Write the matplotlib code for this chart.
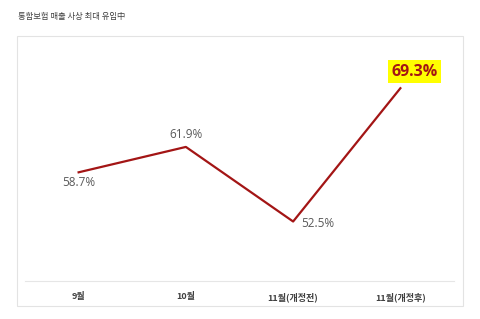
import matplotlib
matplotlib.use("Agg")
import matplotlib.pyplot as plt
from matplotlib.patches import Rectangle

plt.rcParams['font.family'] = ['Noto Sans CJK KR', 'DejaVu Sans']

categories = ['9월', '10월', '11월(개정전)', '11월(개정후)']
values = [58.7, 61.9, 52.5, 69.3]
labels = ['58.7%', '61.9%', '52.5%', '69.3%']
title = '통합보험 매출 사상 최대 유입中'

fig = plt.figure(figsize=(4.8, 3.19), dpi=100)
fig.patch.set_facecolor('white')

# outer frame
fig.patches.append(Rectangle((17/480, 1-306/319), (463-17)/480, (306-36)/319,
                             transform=fig.transFigure, fill=False,
                             edgecolor='#e3e3e3', linewidth=0.8))
fig.text(18/480, 1-17/319, title, fontsize=6, color='#404040', va='center', ha='left')

ax = fig.add_axes([25/480, 1-281/319, (454-25)/480, (281-43)/319])
x = list(range(len(categories)))
ax.plot(x, values, color='#a31515', linewidth=1.6)
ax.set_xlim(-0.5, len(categories)-0.5)
ax.set_ylim(45, 75)
ax.set_yticks([])
ax.set_xticks(x)
ax.set_xticklabels(categories, fontsize=6.5, fontweight='bold', color='#404040')
ax.tick_params(axis='x', length=0, pad=8)
for s in ['top', 'right', 'left']:
    ax.spines[s].set_visible(False)
ax.spines['bottom'].set_color('#e6e6e6')
ax.spines['bottom'].set_linewidth(0.8)

offsets = [(0, -3, 'center', 'top'), (0, 4, 'center', 'bottom'),
           (6, -1.5, 'left', 'center'), (10, 6, 'center', 'bottom')]
for i, (v, lab) in enumerate(zip(values, labels)):
    dx, dy, ha, va = offsets[i]
    if i == 3:
        ax.annotate(lab, (i, v), xytext=(dx, dy), textcoords='offset points',
                    ha=ha, va=va, fontsize=11.5, fontweight='bold', color='#a31515',
                    family=['Open Sans'],
                    bbox=dict(boxstyle='square,pad=0.22', facecolor='#ffff00', edgecolor='none'))
    else:
        ax.annotate(lab, (i, v), xytext=(dx, dy), textcoords='offset points',
                    ha=ha, va=va, fontsize=8.5, color='#595959', family=['Open Sans'])

fig.savefig('out.png', dpi=100, facecolor='white')
